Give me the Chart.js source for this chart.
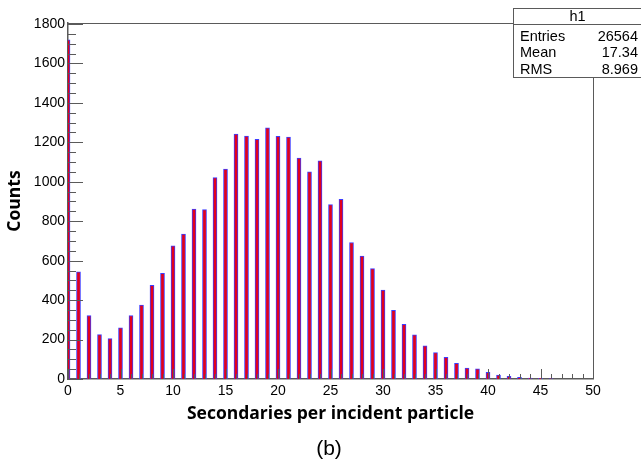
<!DOCTYPE html>
<html>
<head>
<meta charset="utf-8">
<script src="https://cdn.jsdelivr.net/npm/chart.js@4.4.1/dist/chart.umd.min.js"></script>
<style>
  html, body { margin: 0; padding: 0; background: #ffffff; }
  #wrap { width: 641px; height: 465px; }
</style>
</head>
<body>
<div id="wrap"><canvas id="c" width="641" height="465"></canvas></div>
<script>
// Histogram h1: number of secondaries produced per incident particle
const bins = [0, 1, 2, 3, 4, 5, 6, 7, 8, 9,
              10, 11, 12, 13, 14, 15, 16, 17, 18, 19,
              20, 21, 22, 23, 24, 25, 26, 27, 28, 29,
              30, 31, 32, 33, 34, 35, 36, 37, 38, 39,
              40, 41, 42, 43, 44, 45, 46, 47, 48, 49];
const counts = [1720, 543, 322, 225, 205, 260, 322, 375, 475, 536,
                675, 735, 862, 859, 1021, 1064, 1242, 1232, 1215, 1274,
                1230, 1227, 1120, 1050, 1106, 884, 911, 692, 623, 560,
                451, 348, 277, 224, 168, 134, 110, 79, 56, 51,
                34, 20, 13, 8, 5, 4, 2, 0, 0, 0];
const yTickValues = [0, 200, 400, 600, 800, 1000, 1200, 1400, 1600, 1800];
const xTickValues = [0, 5, 10, 15, 20, 25, 30, 35, 40, 45, 50];
const statsTitle = 'h1';
const statsNames = ['Entries', 'Mean', 'RMS'];
const statsValues = ['26564', '17.34', '8.969'];
const xTitle = 'Secondaries per incident particle';
const yTitle = 'Counts';
const panelLabel = '(b)';

const axisColor = '#5a5a5a';
const tickFont = { family: "'Liberation Sans', Arial, sans-serif", size: 14 };
const titleFont = { family: "'Open Sans', sans-serif", size: 17.5, weight: 'bold' };

// Inward ROOT-style ticks, frame, stats box and panel label
const frameAndStats = {
  id: 'frameAndStats',
  afterDatasetsDraw(chart) {
    const { ctx, chartArea: a, scales: { x, y } } = chart;
    ctx.save();
    ctx.strokeStyle = axisColor;
    ctx.lineWidth = 1;
    ctx.beginPath();
    // y ticks every 50, long every 200
    for (let v = 0; v <= 1800; v += 50) {
      const py = Math.round(y.getPixelForValue(v)) + 0.5;
      const len = v % 200 === 0 ? 15 : 8;
      ctx.moveTo(a.left, py);
      ctx.lineTo(a.left + len, py);
    }
    // x ticks every unit, long every 5
    for (let v = 0; v <= 50; v += 1) {
      const px = Math.round(x.getPixelForValue(v)) + 0.5;
      const len = v % 5 === 0 ? 10 : 5;
      ctx.moveTo(px, a.bottom);
      ctx.lineTo(px, a.bottom - len);
    }
    ctx.stroke();
    ctx.restore();
  },
  afterDraw(chart) {
    const { ctx, chartArea: a } = chart;
    const boxL = 513.5, boxT = 8.5, boxB = 77.5, boxR = 643;
    ctx.save();
    ctx.strokeStyle = axisColor;
    ctx.lineWidth = 1;
    // frame: top edge up to the stats box, right edge below it
    ctx.beginPath();
    ctx.moveTo(a.left, Math.round(a.top) + 0.5);
    ctx.lineTo(boxL, Math.round(a.top) + 0.5);
    ctx.moveTo(Math.round(a.right) + 0.5, boxB);
    ctx.lineTo(Math.round(a.right) + 0.5, a.bottom);
    ctx.stroke();
    // stats box
    ctx.fillStyle = '#ffffff';
    ctx.fillRect(boxL, boxT, boxR - boxL, boxB - boxT);
    ctx.strokeRect(boxL, boxT, boxR - boxL, boxB - boxT);
    ctx.beginPath();
    ctx.moveTo(boxL, 24.5);
    ctx.lineTo(boxR, 24.5);
    ctx.stroke();
    ctx.fillStyle = '#000000';
    ctx.font = "14.5px 'Liberation Sans', Arial, sans-serif";
    ctx.textBaseline = 'alphabetic';
    ctx.textAlign = 'center';
    ctx.fillText(statsTitle, 577.5, 21);
    const rowsY = [40.5, 57, 73.5];
    statsNames.forEach((n, i) => {
      ctx.textAlign = 'left';
      ctx.fillText(n, 520, rowsY[i]);
      ctx.textAlign = 'right';
      ctx.fillText(statsValues[i], 638, rowsY[i]);
    });
    // panel label
    ctx.font = "21px 'Liberation Sans', Arial, sans-serif";
    ctx.textAlign = 'center';
    ctx.textBaseline = 'middle';
    ctx.fillText(panelLabel, 329, 449);
    ctx.restore();
  }
};

new Chart(document.getElementById('c'), {
  type: 'bar',
  data: {
    datasets: [{
      data: bins.map((b, i) => ({ x: b, y: counts[i] })),
      backgroundColor: '#e3001b',
      borderColor: '#3d3dff',
      borderWidth: 1,
      borderSkipped: 'bottom',
      barThickness: 4
    }]
  },
  options: {
    responsive: false,
    animation: false,
    layout: { padding: { top: 23, right: 48, left: 0, bottom: 0 } },
    plugins: {
      legend: { display: false },
      tooltip: { enabled: false },
      title: { display: false }
    },
    scales: {
      x: {
        type: 'linear',
        min: 0,
        max: 50,
        offset: false,
        grid: { display: false, drawTicks: false },
        border: { display: true, color: axisColor, width: 1.5 },
        afterBuildTicks(s) { s.ticks = xTickValues.map(v => ({ value: v })); },
        ticks: {
          font: tickFont, color: '#000', padding: 4, maxRotation: 0, autoSkip: false,
          callback: v => String(v)
        },
        title: {
          display: true, text: xTitle, font: titleFont, color: '#000',
          padding: { top: 0, bottom: 40 }
        },
        afterFit(s) { s.height = 86; }
      },
      y: {
        min: 0,
        max: 1805,
        grid: { display: false, drawTicks: false },
        border: { display: true, color: axisColor, width: 1.5 },
        afterBuildTicks(s) { s.ticks = yTickValues.map(v => ({ value: v })); },
        ticks: {
          font: tickFont, color: '#000', padding: 3, autoSkip: false,
          callback: v => String(v)
        },
        title: {
          display: true, text: yTitle, font: titleFont, color: '#000',
          padding: { top: 5, bottom: 0 }
        },
        afterFit(s) { s.width = 68; }
      }
    }
  },
  plugins: [frameAndStats]
});
</script>
</body>
</html>
